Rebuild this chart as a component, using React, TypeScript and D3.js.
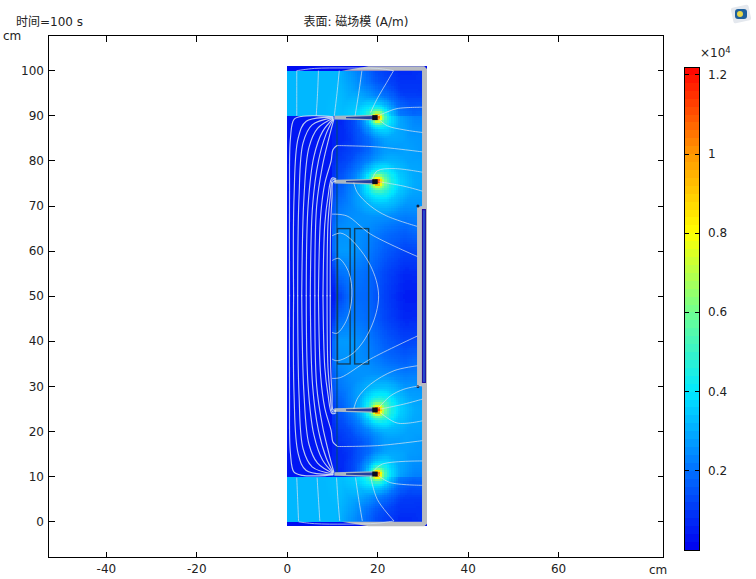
import React, { useMemo } from 'react'
import * as d3 from 'd3'

type Pt = [number, number]

const width = 756
const height = 579

const xTicks = [-40, -20, 0, 20, 40, 60]
const yTicks = [0, 10, 20, 30, 40, 50, 60, 70, 80, 90, 100]
const barTicks = [0.2, 0.4, 0.6, 0.8, 1, 1.2]
const colorStops = [0, 0.2, 0.4, 0.6, 0.8, 1, 1.22]
const colorValues = ['#0000f0', '#0070ff', '#00e8ff', '#70ff90', '#ffff00', '#ff9800', '#ff0000']

// field magnitude (x10^4 A/m), one table per band
const topCols = [0, 11, 15, 20, 25, 31]
const topRows = [100, 95, 90]
const topField = [
  [0.32, 0.32, 0.24, 0.12, 0.07, 0.09],
  [0.32, 0.32, 0.26, 0.14, 0.08, 0.1],
  [0.32, 0.32, 0.28, 0.2, 0.14, 0.2],
]
const bottomRows = [10, 5, 0]
const bottomField = [
  [0.32, 0.32, 0.28, 0.2, 0.14, 0.2],
  [0.32, 0.32, 0.26, 0.14, 0.08, 0.1],
  [0.32, 0.32, 0.24, 0.12, 0.07, 0.09],
]
const midCols = [10, 11.5, 14, 18, 22, 26, 31]
const midRows = [90, 85, 80, 75, 70, 65, 60, 55, 50, 45, 40, 35, 30, 25, 20, 15, 10]
const midField = [
  [0.06, 0.05, 0.05, 0.09, 0.2, 0.2, 0.22],
  [0.05, 0.06, 0.07, 0.1, 0.2, 0.25, 0.26],
  [0.06, 0.1, 0.11, 0.14, 0.22, 0.26, 0.28],
  [0.08, 0.14, 0.16, 0.2, 0.28, 0.28, 0.28],
  [0.14, 0.2, 0.22, 0.24, 0.26, 0.24, 0.26],
  [0.18, 0.25, 0.26, 0.24, 0.2, 0.18, 0.22],
  [0.18, 0.27, 0.27, 0.22, 0.16, 0.12, 0.13],
  [0.08, 0.2, 0.22, 0.19, 0.12, 0.07, 0.08],
  [0.03, 0.12, 0.2, 0.18, 0.11, 0.05, 0.05],
  [0.08, 0.2, 0.22, 0.19, 0.12, 0.07, 0.08],
  [0.18, 0.27, 0.27, 0.22, 0.16, 0.12, 0.13],
  [0.18, 0.25, 0.26, 0.24, 0.2, 0.18, 0.22],
  [0.14, 0.2, 0.22, 0.24, 0.26, 0.24, 0.26],
  [0.08, 0.14, 0.16, 0.2, 0.28, 0.28, 0.28],
  [0.06, 0.1, 0.11, 0.14, 0.22, 0.26, 0.28],
  [0.05, 0.06, 0.07, 0.1, 0.2, 0.25, 0.26],
  [0.06, 0.05, 0.05, 0.09, 0.2, 0.2, 0.22],
]
const coreValue = 0.035
const capValue = 0.03
const tipY = [89.6, 75.4, 24.8, 10.6]
const glowRadius = [0, 0.5, 1, 1.5, 2, 3, 5, 8, 12]
const glowValue = [1, 0.8, 0.52, 0.38, 0.28, 0.18, 0.08, 0.02, 0]

const shell: Pt[] = [
  [18, 101], [12, 100], [29.8, 100], [29.8, 70], [28.7, 69.8], [28.7, 30.2], [29.8, 30], [29.8, 0],
  [12, 0], [18, -1], [30.3, -1], [30.9, -0.4], [30.9, 100.4], [30.3, 101],
]
const slot: Pt[] = [[29.9, 69.2], [30.55, 69.2], [30.55, 30.9], [29.9, 30.9]]
const coils = [[11.1, 13.9], [14.9, 18]]
const coilY = [35, 65]
const ironEdge: Pt[] = [[11, 89], [11, 11]]

// lines in the core: upper half from y=50, the lower half is the same run mirrored
const coreLines: Pt[][] = [
  [[0.5, 50], [0.5, 72], [0.7, 85], [1.5, 89.2], [3.4, 89.9], [7, 90], [10.2, 89.8]],
  [[1.4, 50], [1.5, 72], [2.4, 85], [4.2, 88.8], [10.2, 89.7]],
  [[2.3, 50], [2.6, 72], [3.5, 84], [5.5, 88], [10.2, 89.6]],
  [[3.2, 50], [3.7, 72], [4.8, 83], [6.7, 87.2], [10.2, 89.5]],
  [[4.2, 50], [4.6, 70], [5.9, 81], [7.8, 86.5], [10.2, 89.4]],
  [[5.1, 50], [5.6, 70], [6.9, 80], [8.6, 86], [10.2, 89.3]],
  [[6.1, 50], [6.5, 70], [7.8, 79], [9.2, 85], [10.3, 89.2]],
  [[6.9, 50], [7.4, 68], [8.3, 75], [9.7, 80], [10.1, 82.5], [11, 83.4]],
  [[7.9, 50], [8.3, 66], [9, 72], [9.9, 76.2], [10.8, 76]],
  [[8.8, 50], [9, 66], [9.5, 72], [10, 75.8], [10.8, 75.7]],
  [[9.5, 50], [9.6, 66], [9.9, 72], [10.1, 75.3], [10.8, 75.5]],
]

const airLines: Pt[][] = [
  // top block
  [[2.1, 100], [2.1, 95], [2.1, 90]],
  [[6.9, 100], [6.7, 95], [6.4, 90]],
  [[11.5, 100], [11, 95], [10.4, 90]],
  [[16.5, 100], [15.8, 95], [15, 90]],
  [[23.5, 100], [22, 97.4], [20, 94], [18.4, 90.7]],
  [[2.1, 100], [6, 100.5], [13, 100.6], [20, 100.5], [23.5, 100]],
  // tip at 90
  [[20, 90], [21.7, 90.7], [24.3, 91.6], [29.9, 91.9]],
  [[20.2, 89.3], [22.1, 87.8], [25.8, 86.9], [29.9, 86.3]],
  // between the plates
  [[11, 83.4], [20, 83.1], [29.9, 82]],
  // tip at 75
  [[18.8, 76], [19.9, 77.8], [23.6, 78.3], [29.9, 77.5]],
  [[20.2, 75.4], [25.8, 74.4], [29.9, 73.3]],
  [[14.7, 75.2], [15.5, 73], [18.4, 70], [22, 67.8], [28.7, 65.5]],
  // around the coils
  [[9.9, 68.2], [13.2, 67.8], [18.4, 63.8], [28.8, 58.8]],
  [[9.9, 63.4], [11.8, 64], [14, 62.7], [18.4, 56.8], [20.2, 50.1], [18.4, 42.8], [14.7, 37.5], [11, 35.7], [9.9, 36.1]],
  [[9.9, 57.9], [11.4, 58.4], [13.6, 55.3], [14.3, 50.1], [13.2, 44.9], [11, 41.8], [9.9, 42]],
  [[9.9, 31.8], [11.8, 32], [18.4, 36.1], [28.8, 41.2]],
  // tip at 25
  [[14.7, 25], [15.6, 27.5], [18.4, 30.5], [23.6, 33.5], [28.8, 34.6]],
  [[20.2, 25.3], [22.8, 27.9], [25.8, 29.4], [29.5, 30.2]],
  [[20.6, 25], [25.8, 26.1], [29.9, 27.2]],
  [[20.6, 24.2], [24.3, 21.9], [29.9, 22.4]],
  [[11, 16.7], [20, 16.9], [29.9, 18]],
  // tip at 10
  [[19.1, 11.3], [21, 12.8], [29.9, 13.5]],
  [[20.2, 10.2], [22.8, 8.7], [29.9, 8.1]],
  // bottom block
  [[2.1, 9.8], [2.3, 5], [2.5, 0.2]],
  [[6.6, 9.8], [6.9, 5], [7.2, 0.2]],
  [[10.9, 9.8], [11.2, 5], [11.6, 0.2]],
  [[15.1, 9.8], [15.8, 5], [16.6, 0.2]],
  [[18.4, 10.2], [19.9, 5], [23.6, 0.2]],
  [[2.5, 0], [6, -0.4], [13, -0.5], [20, -0.3], [23.6, 0.2]],
]

const x = d3.scaleLinear().domain([-52.8, 83.2]).range([48.5, 663.5])
const y = d3.scaleLinear().domain([-7.9, 107.8]).range([557.5, 35.5])
const barY = d3.scaleLinear().domain([0, 1.22]).range([550, 67])
const color = d3.scaleLinear<string>().domain(colorStops).range(colorValues).clamp(true)
const glow = d3.scaleLinear().domain(glowRadius).range(glowValue).clamp(true)

function lookup(cols: number[], rows: number[], table: number[][], cx: number, cy: number) {
  const colAt = d3.scaleLinear().domain(cols).range(cols.map((_, i) => i)).clamp(true)
  const rowAt = d3.scaleLinear().domain(rows).range(rows.map((_, i) => i)).clamp(true)
  const c = colAt(cx)
  const r = rowAt(cy)
  const c0 = Math.min(Math.floor(c), cols.length - 2)
  const r0 = Math.min(Math.floor(r), rows.length - 2)
  const fc = c - c0
  const fr = r - r0
  const a = table[r0][c0] * (1 - fc) + table[r0][c0 + 1] * fc
  const b = table[r0 + 1][c0] * (1 - fc) + table[r0 + 1][c0 + 1] * fc
  return a * (1 - fr) + b * fr
}

function fieldAt(cx: number, cy: number) {
  if (cy > 100 || cy < 0) return capValue
  if (cx < 10 && cy < 90 && cy > 10) return coreValue
  let v = 0
  if (cy >= 90) v = lookup(topCols, topRows, topField, cx, cy)
  else if (cy <= 10) v = lookup(topCols, bottomRows, bottomField, cx, cy)
  else v = lookup(midCols, midRows, midField, cx, cy)
  tipY.forEach(t => {
    v += glow(Math.hypot(cx - 20, cy - t))
  })
  return v
}

const curve = d3.line<Pt>().x(d => x(d[0])).y(d => y(d[1])).curve(d3.curveCatmullRom.alpha(0.5))
const poly = (pts: Pt[]) => 'M' + pts.map(p => `${x(p[0])},${y(p[1])}`).join('L') + 'Z'

export default function App() {
  const cells = useMemo(() => {
    const step = 0.5
    const out: { cx: number; cy: number }[] = []
    for (const cx of d3.range(0, 31, step)) {
      for (const cy of d3.range(-1, 101, step)) out.push({ cx, cy })
    }
    return out.map(({ cx, cy }) => {
      const l = Math.round(x(cx))
      const r = Math.round(x(Math.min(cx + step, 30.9)))
      const t = Math.round(y(cy + step))
      const b = Math.round(y(cy))
      return <rect key={cx + '_' + cy} x={l} y={t} width={r - l} height={b - t} fill={color(fieldAt(cx + step / 2, cy + step / 2))} />
    })
  }, [])

  const barSteps = d3.range(0, 1.22, 0.02)
  const font = '"DejaVu Sans","Noto Sans CJK SC",sans-serif'
  const tickColor = '#222'

  return (
    <svg width={width} height={height} style={{ position: 'absolute', left: 0, top: 0 }} fontFamily={font} fontSize={12} fill={tickColor}>
      <defs>
        <filter id="soft" filterUnits="userSpaceOnUse" x={270} y={55} width={170} height={480}>
          <feGaussianBlur stdDeviation={0.5} />
        </filter>
      </defs>
      <rect width={width} height={height} fill="#fff" />
      <g filter="url(#soft)">
        <g shapeRendering="crispEdges">{cells}</g>

        <path d={poly(shell)} fill="#b8bbc0" />
        <path d={poly(slot)} fill="#2350d0" stroke="#2010a0" strokeWidth={1.1} />
        {[70, 30].map(v => <circle key={v} cx={x(28.9)} cy={y(v)} r={1.5} fill="#102040" />)}

        <path d={curve(ironEdge) || ''} fill="none" stroke="#0d4a70" strokeWidth={1} />
        {coils.map(c => (
          <rect key={c[0]} x={x(c[0])} y={y(coilY[1])} width={x(c[1]) - x(c[0])} height={y(coilY[0]) - y(coilY[1])} fill="none" stroke="#0f3f62" strokeWidth={1.4} />
        ))}

        {tipY.map(t => (
          <g key={t}>
            <path d={poly([[10.4, t + 0.4], [19, t + 0.6], [19, t - 0.6], [10.4, t - 0.4]])} fill="#a8b6c4" />
            <path d={poly([[13, t + 0.15], [19, t + 0.35], [19, t - 0.35], [13, t - 0.15]])} fill="#2440a0" />
            <path d={poly([[18.8, t + 0.55], [20, t + 0.55], [20, t - 0.55], [18.8, t - 0.55]])} fill="#0a0a1e" />
          </g>
        ))}

        <g fill="none" stroke="#dce8f2" strokeWidth={1.15} strokeOpacity={0.85}>
          {coreLines.map((pts, i) => (
            <g key={i}>
              <path d={curve(pts) || ''} />
              <path d={curve(pts.map(p => [p[0], 100.2 - p[1]] as Pt)) || ''} />
            </g>
          ))}
        </g>
        <g fill="none" stroke="#d4e2ee" strokeWidth={1} strokeOpacity={0.72}>
          {airLines.map((pts, i) => <path key={i} d={curve(pts) || ''} />)}
        </g>
      </g>

      <rect x={48.5} y={35.5} width={615} height={522} fill="none" stroke="#000" />
      <g stroke="#000" shapeRendering="crispEdges">
        {xTicks.map(t => (
          <g key={t}>
            <line x1={x(t)} x2={x(t)} y1={35.5} y2={41.5} />
            <line x1={x(t)} x2={x(t)} y1={557.5} y2={551.5} />
          </g>
        ))}
        {yTicks.map(t => (
          <g key={t}>
            <line x1={48.5} x2={54.5} y1={y(t)} y2={y(t)} />
            <line x1={663.5} x2={657.5} y1={y(t)} y2={y(t)} />
          </g>
        ))}
      </g>
      {xTicks.map(t => <text key={t} x={x(t)} y={573} textAnchor="middle">{t}</text>)}
      {yTicks.map(t => <text key={t} x={44} y={y(t) + 4} textAnchor="end">{t}</text>)}
      <text x={3} y={40}>cm</text>
      <text x={649} y={574}>cm</text>
      <text x={16} y={26}>时间=100 s</text>
      <text x={356} y={26} textAnchor="middle">表面: 磁场模 (A/m)</text>

      <g shapeRendering="crispEdges">
        {barSteps.map(v => (
          <rect key={v} x={685} width={15} y={Math.round(barY(v + 0.02))} height={Math.round(barY(v)) - Math.round(barY(v + 0.02))} fill={color(v + 0.01)} />
        ))}
        <rect x={684.5} y={67.5} width={15} height={483} fill="none" stroke="#000" />
        {barTicks.map(t => (
          <g key={t} stroke="#000">
            <line x1={685} x2={689} y1={barY(t)} y2={barY(t)} />
            <line x1={699} x2={695} y1={barY(t)} y2={barY(t)} />
          </g>
        ))}
      </g>
      {barTicks.map(t => <text key={t} x={708} y={barY(t) + 4}>{t}</text>)}
      <text x={700} y={57}>×10<tspan fontSize={8.5} dy={-4}>4</tspan></text>

      <g transform="translate(741,14)">
        <rect x={-9} y={-8} width={18} height={16} rx={2} fill="#e4e8ee" transform="rotate(-12)" />
        <rect x={-6} y={-5} width={12} height={10} rx={3} fill="#1d5f9c" />
        <circle cx={-1} cy={0} r={3} fill="#e6d64a" />
      </g>
    </svg>
  )
}
